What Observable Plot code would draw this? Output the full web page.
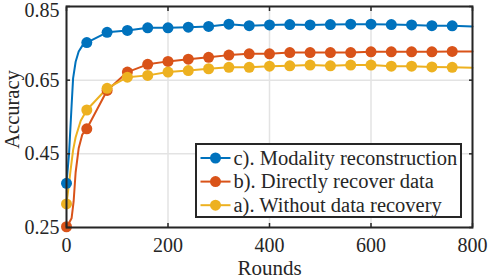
<!DOCTYPE html>
<html><head><meta charset="utf-8">
<script src="https://cdn.jsdelivr.net/npm/d3@7"></script>
<script src="https://cdn.jsdelivr.net/npm/@observablehq/plot@0.6"></script>
<style>
body{margin:0;background:#fff;}
#chart{position:relative;width:488px;height:279px;font-family:"Liberation Serif","Times New Roman",serif;}
#legend{position:absolute;left:195px;top:143px;}
</style></head><body><div id="chart"></div>
<script>
const seriesNames = ["c). Modality reconstruction", "b). Directly recover data", "a). Without data recovery"];
const seriesColors = ["#0072BD", "#D95319", "#EDB120"];

const roundsC = [0, 5, 10, 13, 18, 24, 31, 40, 80, 120, 160, 200, 240, 280, 320, 360, 400, 440, 480, 520, 560, 600, 640, 680, 720, 760, 800];
const accC    = [0.370, 0.45, 0.58, 0.655, 0.700, 0.728, 0.743, 0.752, 0.780, 0.785, 0.792, 0.792, 0.794, 0.796, 0.802, 0.798, 0.800, 0.801, 0.800, 0.801, 0.802, 0.802, 0.801, 0.800, 0.798, 0.7975, 0.796];

const roundsB = [0, 5, 10, 14, 18, 24, 31, 40, 80, 120, 160, 200, 240, 280, 320, 360, 400, 440, 480, 520, 560, 600, 640, 680, 720, 760, 800];
const accB    = [0.252, 0.262, 0.275, 0.32, 0.40, 0.465, 0.502, 0.518, 0.622, 0.672, 0.693, 0.701, 0.707, 0.712, 0.718, 0.7215, 0.7215, 0.725, 0.725, 0.725, 0.725, 0.727, 0.727, 0.727, 0.727, 0.728, 0.728];

const roundsA = [0, 5, 8, 13, 18, 28, 40, 80, 120, 160, 200, 240, 280, 320, 360, 400, 440, 480, 520, 560, 600, 640, 680, 720, 760, 800];
const accA    = [0.314, 0.37, 0.405, 0.46, 0.495, 0.54, 0.569, 0.628, 0.658, 0.663, 0.672, 0.676, 0.681, 0.685, 0.685, 0.688, 0.689, 0.691, 0.689, 0.691, 0.691, 0.688, 0.688, 0.686, 0.685, 0.684];

const xTicks = [0, 200, 400, 600, 800];
const yTicks = [0.25, 0.45, 0.65, 0.85];
const xLabel = "Rounds";
const yLabel = "Accuracy";

const seriesRounds = [roundsC, roundsB, roundsA];
const seriesAcc = [accC, accB, accA];
const rows = [];
seriesNames.forEach((name, i) => {
  seriesRounds[i].forEach((r, j) => rows.push({series: name, round: r, acc: seriesAcc[i][j]}));
});
const markerRows = rows.filter(d => d.round % 40 === 0 && d.round <= 760);

const font = "'Liberation Serif','Times New Roman',serif";
const axisColor = "#262626";
const yTop = yTicks[yTicks.length - 1];

const plot = Plot.plot({
  width: 488,
  height: 279,
  marginLeft: 66,
  marginRight: 16,
  marginTop: 6,
  marginBottom: 52,
  style: {fontFamily: font, fontSize: "20px", color: axisColor, background: "white"},
  x: {domain: [0, 800]},
  y: {domain: [0.25, 0.85]},
  color: {domain: seriesNames, range: seriesColors},
  marks: [
    Plot.gridX(xTicks, {stroke: "#e3e3e3", strokeOpacity: 1, strokeWidth: 1.5}),
    Plot.gridY(yTicks, {stroke: "#e3e3e3", strokeOpacity: 1, strokeWidth: 1.5}),
    Plot.line(rows, {x: "round", y: "acc", z: "series", stroke: "series", strokeWidth: 2}),
    Plot.dot(markerRows, {x: "round", y: "acc", fill: "series", r: 5.5, stroke: "none"}),
    Plot.axisX(xTicks, {anchor: "bottom", tickSize: 0, tickPadding: 10, label: null, tickFormat: d => String(d), fill: axisColor}),
    Plot.axisY(yTicks.filter(t => t !== yTop), {anchor: "left", tickSize: 0, tickPadding: 7, label: null, tickFormat: d => d.toFixed(2), fill: axisColor}),
    Plot.axisY([yTop], {anchor: "left", tickSize: 0, tickPadding: 7, dy: 4, label: null, tickFormat: d => d.toFixed(2), fill: axisColor}),
    Plot.axisX(xTicks, {anchor: "bottom", tickSize: -4, fill: "none", label: null, stroke: axisColor, strokeWidth: 1.5}),
    Plot.axisX(xTicks, {anchor: "top", tickSize: -4, fill: "none", label: null, stroke: axisColor, strokeWidth: 1.5}),
    Plot.axisY(yTicks, {anchor: "left", tickSize: -4, fill: "none", label: null, stroke: axisColor, strokeWidth: 1.5}),
    Plot.axisY(yTicks, {anchor: "right", tickSize: -4, fill: "none", label: null, stroke: axisColor, strokeWidth: 1.5}),
    Plot.frame({stroke: axisColor, strokeWidth: 2}),
    Plot.text([xLabel], {text: d => d, frameAnchor: "bottom", textAnchor: "middle", dy: 47.5, lineAnchor: "bottom", fontSize: 21, fill: axisColor}),
    Plot.text([yLabel], {text: d => d, frameAnchor: "left", textAnchor: "middle", dx: -47.5, dy: -7.5, rotate: -90, lineAnchor: "bottom", fontSize: 20.5, fill: axisColor})
  ]
});
const chart = document.getElementById("chart");
chart.appendChild(plot);

// Legend box drawn inside the plot area
const lw = 267, lh = 75, rowH = 23.6;
const legend = d3.select(chart).append("svg")
  .attr("id", "legend").attr("width", lw).attr("height", lh)
  .style("font-family", font);
legend.append("rect").attr("x", 1).attr("y", 1).attr("width", lw - 2).attr("height", lh - 2)
  .attr("fill", "white").attr("stroke", axisColor).attr("stroke-width", 2);
seriesNames.forEach((name, i) => {
  const cy = 15 + i * rowH;
  const g = legend.append("g");
  g.append("line").attr("x1", 5.5).attr("x2", 35.5).attr("y1", cy).attr("y2", cy)
    .attr("stroke", seriesColors[i]).attr("stroke-width", 2);
  g.append("circle").attr("cx", 20.5).attr("cy", cy).attr("r", 5.5).attr("fill", seriesColors[i]);
  g.append("text").attr("x", 38.5).attr("y", cy).attr("dy", "0.33em")
    .attr("font-size", 20.5).attr("fill", axisColor).text(name);
});
</script>
</body></html>
